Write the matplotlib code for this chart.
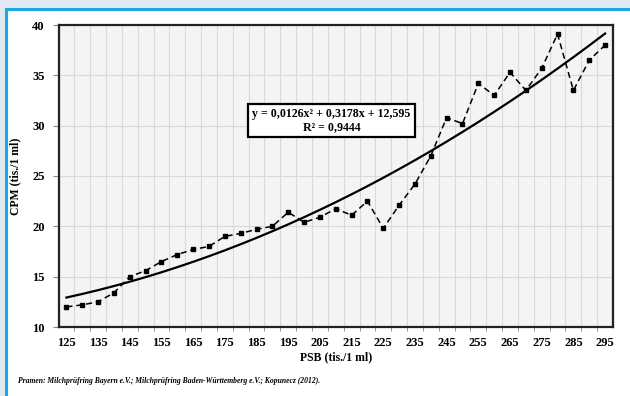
import numpy as np
import matplotlib
matplotlib.use("Agg")
import matplotlib.pyplot as plt
from matplotlib.patches import Rectangle
from matplotlib.lines import Line2D

# PSB (tis./1 ml) - kategorie
psb = np.arange(125, 300, 5)
# CPM (tis./1 ml)
cpm = [12.0, 12.2, 12.5, 13.4, 15.0, 15.6, 16.5, 17.2, 17.7, 18.0,
       19.0, 19.3, 19.7, 20.0, 21.4, 20.4, 20.9, 21.75, 21.1, 22.5,
       19.8, 22.1, 24.2, 27.0, 30.8, 30.2, 34.2, 33.0, 35.3, 33.5,
       35.7, 39.1, 33.5, 36.5, 38.0]
# koeficienty trendu z popisku (x = poradi kategorie)
trend_coef = [0.0126, 0.3178, 12.595]
eq_text = "y = 0,0126x² + 0,3178x + 12,595\nR² = 0,9444"
xticks = list(range(125, 300, 10))
yticks = [10, 15, 20, 25, 30, 35, 40]
source = ("Pramen: Milchprüfring Bayern e.V.; Milchprüfring "
          "Baden-Württemberg e.V.; Kopunecz (2012).")

plt.rcParams['font.family'] = ['Liberation Serif', 'DejaVu Serif']
plt.rcParams['font.weight'] = 'bold'

fig = plt.figure(figsize=(6.3, 3.96), dpi=100)
fig.patch.set_facecolor('white')

# ramecek kolem obrazku
W, H = 630., 396.
fig.patches.append(Rectangle((0, 0), 1, 1, transform=fig.transFigure,
                             facecolor='#e0eaf0', edgecolor='none', zorder=-10))
fig.patches.append(Rectangle((6/W, 0), 1, (H-9)/H, transform=fig.transFigure,
                             facecolor='white', edgecolor='none', zorder=-9))
fig.lines.append(Line2D([6/W, 6/W], [0, (H-9)/H], transform=fig.transFigure,
                        color='#1aa8e6', lw=2.2))
fig.lines.append(Line2D([6/W, 1], [(H-9)/H, (H-9)/H], transform=fig.transFigure,
                        color='#1aa8e6', lw=2.2))

ax = fig.add_axes([58.5/W, 1-327/H, (613-58.5)/W, (327-25)/H])
ax.set_facecolor('#f4f4f4')

idx = np.arange(1, len(psb)+1)
trend = np.polyval(trend_coef, idx)
ax.plot(psb, trend, color='black', lw=1.6, zorder=3)
ax.plot(psb, cpm, color='black', lw=1.1, ls=(0, (4, 2.5)), marker='s',
        markersize=3.0, zorder=4)

ax.set_xlim(122.5, 297.5)
ax.set_ylim(10, 40)
ax.set_xticks(xticks)
ax.set_xticks(np.arange(127.5, 297.5, 5), minor=True)
ax.set_yticks(yticks)
ax.tick_params(axis='x', which='major', length=0, labelsize=9, pad=7)
ax.tick_params(axis='x', which='minor', length=3, color='#888888')
ax.tick_params(axis='y', length=4, color='#888888', labelsize=9, pad=6)
ax.grid(True, which='minor', axis='x', color='#d9d9d9', lw=0.8)
ax.grid(True, which='major', axis='y', color='#d9d9d9', lw=0.8)
ax.set_axisbelow(True)
for s in ax.spines.values():
    s.set_linewidth(1.6)
    s.set_color('#222222')

ax.set_xlabel('PSB (tis./1 ml)', fontsize=8.5, fontweight='bold', labelpad=2)
ax.set_ylabel('CPM (tis./1 ml)', fontsize=8.5, fontweight='bold', labelpad=8)

ax.text(331.5/W, 1-120.5/H, eq_text, transform=fig.transFigure, ha='center',
        va='center', fontsize=8.6, fontweight='bold', multialignment='center',
        linespacing=1.1,
        bbox=dict(boxstyle='square,pad=0.35', facecolor='white',
                  edgecolor='black', lw=1.6))

fig.text(18/W, 1-381/H, source, fontsize=5.5, fontweight='bold',
         style='italic', va='center', ha='left')

fig.savefig('out.png', dpi=100)
